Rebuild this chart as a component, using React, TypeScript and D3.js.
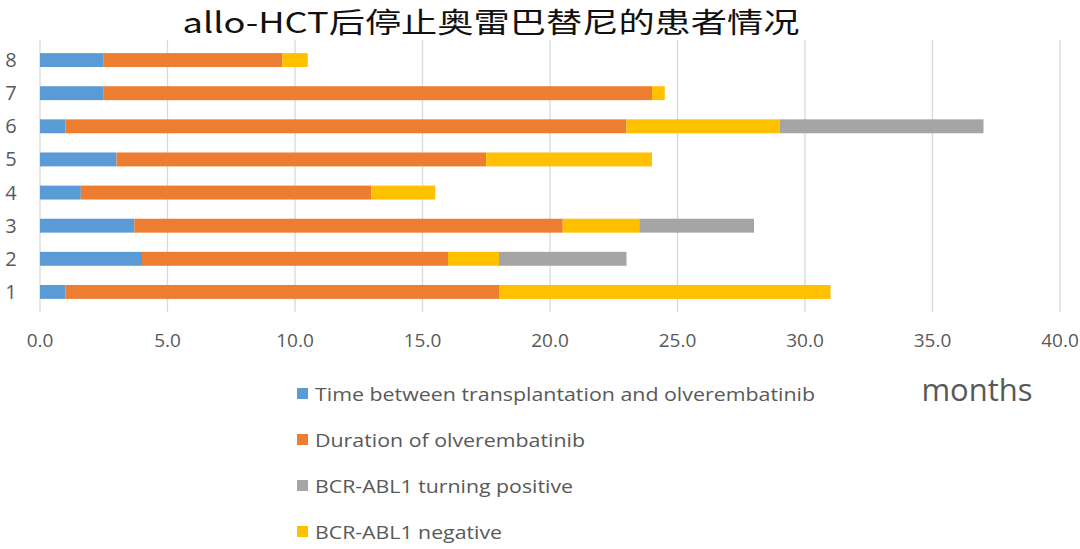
import React from "react";
import * as d3 from "d3";

const categories = ["1", "2", "3", "4", "5", "6", "7", "8"];
const timeBetween = [1.0, 4.0, 3.7, 1.6, 3.0, 1.0, 2.5, 2.5];
const duration = [17.0, 12.0, 16.8, 11.4, 14.5, 22.0, 21.5, 7.0];
const negative = [13.0, 2.0, 3.0, 2.5, 6.5, 6.0, 0.5, 1.0];
const positive = [0, 5.0, 4.5, 0, 0, 8.0, 0, 0];
const xTicks = [0, 5, 10, 15, 20, 25, 30, 35, 40];

const seriesNames = [
  "Time between transplantation and olverembatinib",
  "Duration of olverembatinib",
  "BCR-ABL1 turning positive",
  "BCR-ABL1 negative",
];
const colors: Record<string, string> = {
  time: "#5B9BD5",
  duration: "#ED7D31",
  positive: "#A5A5A5",
  negative: "#FFC000",
};
const legendKeys = ["time", "duration", "positive", "negative"];
const legendWidths = [500, 270, 258, 187];

export default function App() {
  const W = 1080;
  const H = 549;
  const x = d3.scaleLinear().domain([0, 40]).range([40, 1060]);
  const y = d3
    .scaleBand<string>()
    .domain([...categories].reverse())
    .range([43.5, 308.5])
    .paddingInner(0.58)
    .paddingOuter(0.29);

  const rows = categories.map((c, i) => ({
    cat: c,
    time: timeBetween[i],
    duration: duration[i],
    negative: negative[i],
    positive: positive[i],
  }));
  const stack = d3.stack<any>().keys(["time", "duration", "negative", "positive"]);
  const layers = stack(rows);
  const textColor = "#595959";
  const font = "'Open Sans', 'Noto Sans', sans-serif";

  return (
    <svg
      width={W}
      height={H}
      style={{ position: "absolute", left: 0, top: 0, background: "#fff" }}
    >
      <rect x={0} y={0} width={W} height={H} fill="#fff" />
      <text
        x={491}
        y={33}
        textAnchor="middle"
        fontSize={28}
        fontFamily="'Noto Sans CJK SC', sans-serif"
        fill="#111"
        textLength={617}
        lengthAdjust="spacingAndGlyphs"
      >
        allo-HCT后停止奥雷巴替尼的患者情况
      </text>
      {xTicks.map((t) => (
        <line
          key={"g" + t}
          x1={x(t)}
          x2={x(t)}
          y1={40}
          y2={312}
          stroke="#D9D9D9"
          strokeWidth={1.3}
        />
      ))}
      {layers.map((layer) => (
        <g key={layer.key} fill={colors[layer.key]}>
          {layer.map((d: any, i: number) => (
            <rect
              key={i}
              x={x(d[0])}
              y={y(d.data.cat)!}
              width={Math.max(0, x(d[1]) - x(d[0]))}
              height={y.bandwidth()}
            />
          ))}
        </g>
      ))}
      {categories.map((c) => (
        <text
          key={"c" + c}
          x={11}
          y={y(c)! + y.bandwidth() / 2}
          dy="0.35em"
          textAnchor="middle"
          fontSize={20}
          fontFamily={font}
          fill={textColor}
        >
          {c}
        </text>
      ))}
      {xTicks.map((t) => (
        <text
          key={"t" + t}
          x={x(t)}
          y={340}
          dy="0.35em"
          textAnchor="middle"
          fontSize={19}
          fontFamily={font}
          fill={textColor}
        >
          {d3.format(".1f")(t)}
        </text>
      ))}
      {legendKeys.map((k, i) => (
        <g key={"l" + k}>
          <rect x={297} y={388 + i * 46} width={11} height={11} fill={colors[k]} />
          <text
            x={315}
            y={394 + i * 46}
            dy="0.35em"
            fontSize={19}
            fontFamily={font}
            fill={textColor}
            textLength={legendWidths[i]}
            lengthAdjust="spacingAndGlyphs"
          >
            {seriesNames[i]}
          </text>
        </g>
      ))}
      <text
        x={977}
        y={390}
        dy="0.35em"
        textAnchor="middle"
        fontSize={31}
        fontFamily={font}
        fill={textColor}
      >
        months
      </text>
    </svg>
  );
}
